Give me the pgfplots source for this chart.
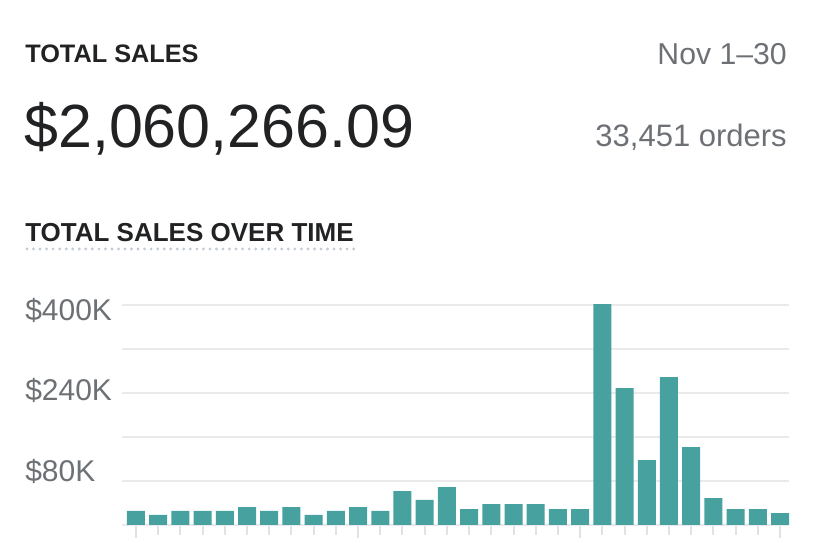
\documentclass[border=0pt]{standalone}
\usepackage{pgfplots}
\pgfplotsset{compat=1.18}
\usepackage{fontspec}
\setmainfont{Liberation Sans}
\definecolor{barteal}{RGB}{71,161,158}
\definecolor{darktxt}{RGB}{33,34,36}
\definecolor{greytxt}{RGB}{109,113,117}
\definecolor{gridc}{RGB}{234,234,236}
\definecolor{tickc}{RGB}{223,227,232}
\definecolor{dotc}{RGB}{196,203,211}
\newcommand{\px}[1]{\fontsize{#1\dimexpr0.75pt\relax}{#1\dimexpr0.9pt\relax}\selectfont}
\begin{document}
\begin{tikzpicture}[x=0.75pt,y=0.75pt]
\path[use as bounding box] (0,0) rectangle (816,538);
\node[anchor=base west,inner sep=0pt,text=darktxt,font=\px{25.3}\bfseries] at (25,475) {TOTAL SALES};
\node[anchor=base west,inner sep=0pt,text=darktxt,font=\px{61}] at (24,390) {\$2,060,266.09};
\node[anchor=base east,inner sep=0pt,text=greytxt,font=\px{30.2}] at (787,473) {Nov 1–30};
\node[anchor=base east,inner sep=0pt,text=greytxt,font=\px{31}] at (787,391) {33,451 orders};
\node[anchor=base west,inner sep=0pt,text=darktxt,font=\px{26}\bfseries] at (25,296) {TOTAL SALES OVER TIME};
\draw[dotc,line width=2.4pt,line cap=round,dash pattern=on 0pt off 4.9pt] (27,289) -- (354,289);
\begin{axis}[
  at={(91.5pt,9.75pt)}, anchor=south west,
  scale only axis, width=500.25pt, height=168.75pt,
  xmin=-0.63, xmax=29.405, ymin=0, ymax=409090,
  axis line style={draw=none},
  ybar, bar width=13.5pt,
  xtick={0,...,29}, xticklabels={},
  xtick pos=lower, ytick pos=left,
  tick align=outside,
  major tick length=7.5pt,
  x tick style={draw=tickc,line width=1.5pt},
  extra x ticks={0,10,20,29},
  extra x tick labels={},
  extra x tick style={major tick length=9.75pt},
  scaled y ticks=false,
  ytick={78182,225455,370909},
  yticklabels={\$80K,\$240K,\$400K},
  y tick style={draw=none},
  yticklabel style={anchor=base west,inner sep=0pt,xshift=-65.25pt,text=greytxt,font=\px{30}},
  extra y ticks={0,80000,160000,240000,320000,400000},
  extra y tick labels={},
  extra y tick style={grid=major,major grid style={draw=gridc,line width=1.1pt},y tick style={draw=none}},
  /pgf/number format/assume math mode=true,
  clip=false,
]
\addplot[fill=barteal,draw=none] coordinates {
(0,25500) (1,18200) (2,25500) (3,25500) (4,25500) (5,32700) (6,25500) (7,32700)
(8,18200) (9,25500) (10,32700) (11,25500) (12,61800) (13,45500) (14,69000)
(15,29000) (16,38000) (17,38000) (18,38000) (19,29000) (20,29000)
(21,401800) (22,249000) (23,118000) (24,269000) (25,141800)
(26,49000) (27,29000) (28,29000) (29,21800)
};
\end{axis}
\end{tikzpicture}
\end{document}
